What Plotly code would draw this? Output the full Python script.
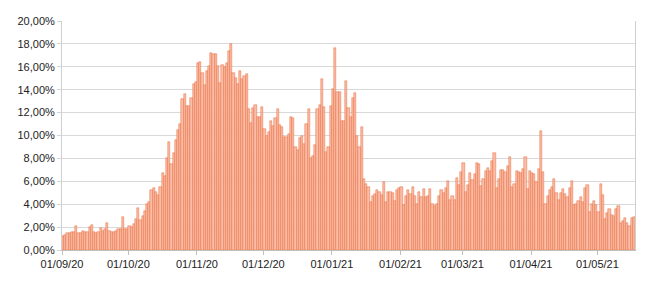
import pandas as pd
import plotly.graph_objects as go

start_date = "2020-09-01"

sep20 = [1.2, 1.3, 1.5, 1.5, 1.6, 1.6, 2.1, 1.5, 1.5, 1.7, 1.6, 1.6, 2.0, 2.2, 1.6,
         1.5, 1.6, 1.9, 1.7, 1.8, 2.4, 1.7, 1.6, 1.6, 1.7, 1.8, 1.8, 2.9, 1.8, 1.8]
oct20 = [2.1, 2.0, 2.3, 2.7, 3.7, 2.6, 3.0, 3.4, 4.0, 4.2, 5.2, 5.4, 5.1, 4.8, 5.5,
         6.7, 6.5, 8.0, 9.4, 7.5, 8.5, 9.6, 10.5, 11.0, 13.2, 13.6, 12.6, 12.6, 13.3, 14.5, 14.7]
nov20 = [16.3, 16.4, 15.5, 14.4, 15.6, 16.1, 17.2, 17.1, 17.1, 16.1, 14.6, 16.2, 16.0, 16.3, 17.4,
         18.0, 15.5, 15.0, 14.5, 15.6, 14.9, 15.2, 15.4, 12.3, 11.1, 12.4, 12.7, 11.6, 11.6, 12.5]
dec20 = [10.6, 10.0, 10.3, 11.3, 10.8, 11.5, 12.3, 10.9, 10.7, 9.9, 9.9, 10.1, 11.6, 11.5, 9.0,
         8.7, 9.8, 10.0, 9.3, 11.0, 12.3, 8.0, 8.2, 9.2, 12.3, 12.7, 14.9, 12.5, 8.6, 9.0, 12.6]
jan21 = [14.1, 17.6, 13.8, 13.8, 11.3, 11.3, 14.8, 12.4, 11.6, 13.3, 13.7, 10.0, 9.0, 10.7, 6.2,
         5.8, 5.5, 4.2, 4.7, 4.9, 5.2, 5.1, 4.8, 5.9, 4.2, 5.1, 5.1, 5.0, 4.3, 5.2, 5.4]
feb21 = [5.5, 3.9, 4.7, 5.2, 4.9, 5.5, 4.7, 4.0, 5.1, 4.6, 5.3, 4.6, 4.7, 5.3, 4.0,
         3.8, 4.0, 4.7, 5.2, 5.0, 5.4, 6.0, 4.4, 4.7, 4.4, 6.3, 5.7, 6.8]
mar21 = [7.6, 5.1, 5.7, 6.7, 6.1, 6.6, 7.6, 7.5, 5.6, 6.2, 6.9, 7.2, 6.9, 7.8, 8.5,
         5.4, 6.2, 7.0, 7.0, 6.8, 7.3, 8.1, 5.5, 5.8, 6.9, 6.8, 6.7, 7.1, 8.1, 5.3, 6.9]
apr21 = [6.7, 6.6, 5.9, 7.1, 10.4, 6.8, 4.0, 4.7, 5.2, 5.5, 6.2, 5.0, 4.4, 5.0, 5.3,
         4.9, 4.65, 5.4, 6.0, 3.9, 4.0, 4.3, 4.65, 4.2, 5.4, 5.7, 3.3, 4.0, 4.3, 3.9]
may21 = [3.3, 5.8, 4.8, 2.75, 3.2, 3.6, 3.1, 3.0, 3.6, 3.8, 2.4, 2.5, 2.8, 2.35, 2.1, 2.8, 2.85]

values_pct = sep20 + oct20 + nov20 + dec20 + jan21 + feb21 + mar21 + apr21 + may21
dates = pd.date_range(start_date, periods=len(values_pct), freq="D")

y_tick_vals = [0, 0.02, 0.04, 0.06, 0.08, 0.10, 0.12, 0.14, 0.16, 0.18, 0.20]

fig = go.Figure()
fig.add_trace(go.Bar(
    x=dates,
    y=[v / 100 for v in values_pct],
    offset=0,
    width=86400000,
    marker=dict(color="#fbbca8", line=dict(color="#e5612b", width=0.45)),
    hoverinfo="x+y",
))

end_date = dates[-1] + pd.Timedelta(days=1)

fig.update_layout(
    width=650, height=286,
    margin=dict(l=62, r=15, t=21, b=36),
    paper_bgcolor="white",
    plot_bgcolor="white",
    separators=",.",
    bargap=0,
    showlegend=False,
    font=dict(family="Liberation Sans, Arial, sans-serif", size=11, color="#222222"),
    xaxis=dict(
        type="date",
        range=[dates[0], end_date],
        tick0=start_date,
        dtick="M1",
        tickformat="%d/%m/%y",
        ticks="outside",
        ticklen=4,
        tickcolor="#bfbfbf",
        showgrid=False,
        showline=True,
        linecolor="#bfbfbf",
        linewidth=1,
        mirror=False,
        zeroline=False,
        tickfont=dict(size=11, color="#222222"),
    ),
    yaxis=dict(
        range=[0, 0.20],
        tickvals=y_tick_vals,
        tickformat=".2%",
        ticks="outside",
        ticklen=4,
        tickcolor="#d4d4d4",
        showgrid=True,
        gridcolor="#d9d9d9",
        gridwidth=1,
        showline=True,
        linecolor="#cfcfcf",
        mirror=True,
        zeroline=False,
        tickfont=dict(size=11, color="#222222"),
    ),
)

fig.write_html("out.html")
